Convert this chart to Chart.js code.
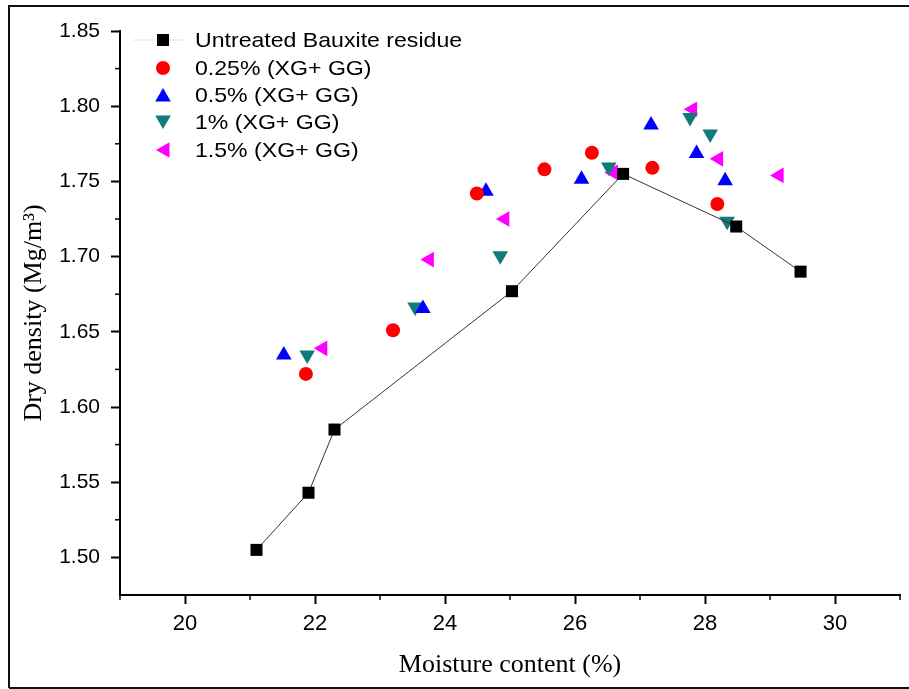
<!DOCTYPE html>
<html><head><meta charset="utf-8">
<script src="https://cdn.jsdelivr.net/npm/chart.js@4"></script>
<style>html,body{margin:0;padding:0;background:#fff}#wrap{width:909px;height:689px;position:relative}</style>
</head><body><div id="wrap"><canvas id="c"></canvas></div>
<script>
const seriesLabels = ['Untreated Bauxite residue', '0.25% (XG+ GG)', '0.5% (XG+ GG)', '1% (XG+ GG)', '1.5% (XG+ GG)'];
const untreatedX = [21.10, 21.90, 22.30, 25.03, 26.74, 28.48, 29.47];
const untreatedY = [1.505, 1.543, 1.585, 1.677, 1.755, 1.720, 1.690];
const xg025X = [21.86, 23.20, 24.49, 25.53, 26.26, 27.19, 28.19];
const xg025Y = [1.622, 1.651, 1.742, 1.758, 1.769, 1.759, 1.735];
const xg05X = [21.52, 23.66, 24.63, 26.10, 27.17, 27.87, 28.31];
const xg05Y = [1.6345, 1.6655, 1.7435, 1.7515, 1.7875, 1.7685, 1.7505];
const xg1X = [21.88, 23.54, 24.85, 26.52, 27.77, 28.08, 28.34];
const xg1Y = [1.6345, 1.6665, 1.7005, 1.7595, 1.7925, 1.7815, 1.7235];
const xg15X = [22.12, 23.76, 24.92, 26.59, 27.81, 28.21, 29.14];
const xg15Y = [1.639, 1.698, 1.725, 1.756, 1.798, 1.765, 1.754];
const xTicks = [20, 22, 24, 26, 28, 30];
const xMinorTicks = [19, 21, 23, 25, 27, 29, 31];
const yTicks = [1.50, 1.55, 1.60, 1.65, 1.70, 1.75, 1.80, 1.85];
const yMinorTicks = [1.525, 1.575, 1.625, 1.675, 1.725, 1.775, 1.825];

const pts = (xs, ys) => xs.map((x, i) => ({x: x, y: ys[i]}));

const datasets = [
  {label: seriesLabels[0], data: pts(untreatedX, untreatedY), showLine: true, borderColor: '#333', borderWidth: 1,
   backgroundColor: '#000', pointBackgroundColor: '#000', pointBorderWidth: 0, pointStyle: 'rect', pointRadius: 8.5},
  {label: seriesLabels[1], data: pts(xg025X, xg025Y), backgroundColor: '#ff0000', pointBackgroundColor: '#ff0000', pointBorderWidth: 0, pointStyle: 'circle', pointRadius: 7},
  {label: seriesLabels[2], data: pts(xg05X, xg05Y), backgroundColor: '#0000ff', pointBackgroundColor: '#0000ff', pointBorderWidth: 0, pointStyle: 'triangle', pointRadius: 9},
  {label: seriesLabels[3], data: pts(xg1X, xg1Y), backgroundColor: '#137a7a', pointBackgroundColor: '#137a7a', pointBorderWidth: 0, pointStyle: 'triangle', pointRotation: 180, pointRadius: 9},
  {label: seriesLabels[4], data: pts(xg15X, xg15Y), backgroundColor: '#ff00ff', pointBackgroundColor: '#ff00ff', pointBorderWidth: 0, pointStyle: 'triangle', pointRotation: -90, pointRadius: 9}
];

const extrasPlugin = {
  id: 'extras',
  afterDraw(chart) {
    const ctx = chart.ctx;
    const xs = chart.scales.x, ys = chart.scales.y;
    ctx.save();
    // minor ticks
    ctx.strokeStyle = '#000'; ctx.lineWidth = 1.5;
    xMinorTicks.forEach(v => {
      const p = xs.getPixelForValue(v);
      ctx.beginPath(); ctx.moveTo(p, xs.top); ctx.lineTo(p, xs.top + 5); ctx.stroke();
    });
    yMinorTicks.forEach(v => {
      const p = ys.getPixelForValue(v);
      ctx.beginPath(); ctx.moveTo(ys.right - 5, p); ctx.lineTo(ys.right, p); ctx.stroke();
    });
    // legend
    const rowText = [40, 68, 95, 122, 150];
    const rowMark = [40, 68, 97, 120, 150];
    const markX = [163, 163, 163, 163, 165];
    ctx.strokeStyle = '#e2e2e2'; ctx.lineWidth = 1;
    ctx.beginPath(); ctx.moveTo(133, 40); ctx.lineTo(183, 40); ctx.stroke();
    chart.data.datasets.forEach((ds, i) => {
      ctx.fillStyle = ds.backgroundColor; ctx.strokeStyle = ds.backgroundColor;
      Chart.helpers.drawPoint(ctx, {pointStyle: ds.pointStyle, radius: ds.pointRadius, rotation: ds.pointRotation || 0, borderWidth: 0}, markX[i], rowMark[i]);
      ctx.save();
      ctx.fillStyle = '#000';
      ctx.font = '21px "Liberation Sans", Arial, sans-serif';
      ctx.textBaseline = 'middle'; ctx.textAlign = 'left';
      ctx.translate(195, rowText[i] + 1);
      ctx.scale(1.1, 1);
      ctx.fillText(ds.label, 0, 0);
      ctx.restore();
    });
    // outer frame
    ctx.strokeStyle = '#111'; ctx.lineWidth = 2;
    ctx.beginPath();
    ctx.moveTo(9, 688); ctx.lineTo(9, 6); ctx.lineTo(909, 6);
    ctx.moveTo(9, 688); ctx.lineTo(909, 688);
    ctx.stroke();
    ctx.restore();
  }
};

new Chart(document.getElementById('c'), {
  type: 'scatter',
  data: {datasets: datasets},
  options: {
    responsive: true, maintainAspectRatio: false, animation: false, events: [],
    layout: {padding: {top: 31, right: 3, left: 0, bottom: 0}},
    plugins: {legend: {display: false}, tooltip: {enabled: false}},
    scales: {
      x: {
        type: 'linear', min: 19, max: 31, position: 'bottom',
        afterBuildTicks: s => { s.ticks = xTicks.map(v => ({value: v})); },
        afterFit: s => { s.height = 94; },
        grid: {display: true, drawOnChartArea: false, drawTicks: true, tickLength: 9, tickWidth: 2, tickColor: '#000'},
        border: {display: true, color: '#000', width: 2},
        ticks: {color: '#000', font: {family: "'Liberation Sans', Arial, sans-serif", size: 22}, padding: 7, maxRotation: 0, autoSkip: false,
                callback: v => String(v)},
        title: {display: true, text: 'Moisture content (%)', color: '#000', font: {family: "'Liberation Serif', 'Times New Roman', serif", size: 26}, padding: {top: 0, bottom: 8}}
      },
      y: {
        type: 'linear', min: 1.475, max: 1.85, position: 'left',
        afterBuildTicks: s => { s.ticks = yTicks.map(v => ({value: v})); },
        afterFit: s => { s.width = 120; },
        grid: {display: true, drawOnChartArea: false, drawTicks: true, tickLength: 9, tickWidth: 2, tickColor: '#000'},
        border: {display: true, color: '#000', width: 2},
        ticks: {color: '#000', font: {family: "'Liberation Sans', Arial, sans-serif", size: 21}, padding: 11, autoSkip: false,
                callback: v => Number(v).toFixed(2)},
        title: {display: true, text: 'Dry density (Mg/m³)', color: '#000', font: {family: "'Liberation Serif', 'Times New Roman', serif", size: 26}, padding: {top: 19, bottom: 0}}
      }
    }
  },
  plugins: [extrasPlugin]
});
</script>
</body></html>
